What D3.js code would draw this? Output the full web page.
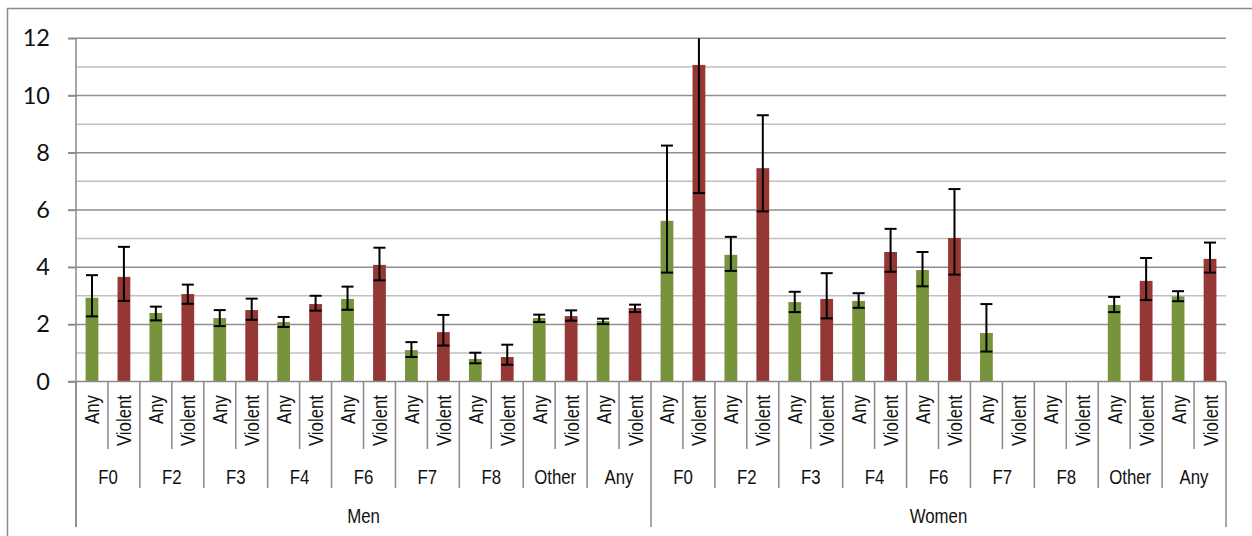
<!DOCTYPE html>
<html>
<head>
<meta charset="utf-8">
<script src="https://cdn.jsdelivr.net/npm/d3@7"></script>
<style>
  html, body { margin: 0; padding: 0; background: #fff; }
  svg { display: block; }
</style>
</head>
<body>
<svg id="chart" width="1252" height="536"></svg>
<script>
// Outcome categories (sub-level, group-level, top-level)
const sexes = ["Men", "Women"];
const groups = ["F0", "F2", "F3", "F4", "F6", "F7", "F8", "Other", "Any"];
const outcomes = ["Any", "Violent"];

// Estimates, one per sex x group x outcome, in category order (null = not shown)
const menValues   = [2.93, 3.66, 2.40, 3.06, 2.22, 2.50, 2.08, 2.71, 2.89, 4.08, 1.10, 1.73, 0.79, 0.86, 2.22, 2.29, 2.12, 2.57];
const womenValues = [5.62, 11.07, 4.43, 7.46, 2.78, 2.89, 2.82, 4.53, 3.90, 5.02, 1.70, null, null, null, 2.68, 3.52, 2.98, 4.29];

// Confidence interval bounds
const menLower   = [2.28, 2.82, 2.14, 2.72, 1.94, 2.16, 1.91, 2.48, 2.51, 3.54, 0.86, 1.26, 0.64, 0.59, 2.08, 2.13, 2.01, 2.43];
const menUpper   = [3.72, 4.71, 2.62, 3.39, 2.50, 2.90, 2.26, 3.00, 3.32, 4.68, 1.38, 2.33, 1.01, 1.29, 2.34, 2.49, 2.20, 2.69];
const womenLower = [3.81, 6.59, 3.87, 5.95, 2.43, 2.21, 2.58, 3.84, 3.33, 3.74, 1.05, null, null, null, 2.43, 2.85, 2.81, 3.81];
const womenUpper = [8.25, 12.0, 5.06, 9.31, 3.14, 3.79, 3.09, 5.34, 4.53, 6.73, 2.71, null, null, null, 2.96, 4.32, 3.16, 4.86];

const yTicks = [0, 2, 4, 6, 8, 10, 12];
const yMinor = [1, 3, 5, 7, 9, 11];

const colors = { Any: "#77933C", Violent: "#953735" };

// Build flat row list
const rows = [];
sexes.forEach((sex, si) => {
  const vals = si === 0 ? menValues : womenValues;
  const lo = si === 0 ? menLower : womenLower;
  const hi = si === 0 ? menUpper : womenUpper;
  groups.forEach((g, gi) => {
    outcomes.forEach((o, oi) => {
      const k = gi * 2 + oi;
      rows.push({ key: `${sex}|${g}|${o}`, sex, group: g, outcome: o,
                  value: vals[k], lo: lo[k], hi: hi[k] });
    });
  });
});

const svg = d3.select("#chart");
const plotLeft = 76, plotRight = 1226, plotTop = 38.3, plotBottom = 381.6;

// Outer chart frame
svg.append("rect")
  .attr("x", 7.5).attr("y", 8.5)
  .attr("width", 1300).attr("height", 600)
  .attr("fill", "none").attr("stroke", "#8a8a8a").attr("stroke-width", 1.5);

const x = d3.scaleBand().domain(rows.map(r => r.key)).range([plotLeft, plotRight]).paddingInner(0).paddingOuter(0);
const y = d3.scaleLinear().domain([0, 12]).range([plotBottom, plotTop]);
const step = x.step();
const barW = step / 2.5;

// Gridlines
svg.append("g").selectAll("line").data(yMinor).join("line")
  .attr("x1", plotLeft).attr("x2", plotRight)
  .attr("y1", d => y(d)).attr("y2", d => y(d))
  .attr("stroke", "#c0c0c0").attr("stroke-width", 1.5);
svg.append("g").selectAll("line").data(yTicks.filter(t => t > 0)).join("line")
  .attr("x1", plotLeft - 8).attr("x2", plotRight)
  .attr("y1", d => y(d)).attr("y2", d => y(d))
  .attr("stroke", "#8f8f8f").attr("stroke-width", 1.5);

// Y axis
const yAxis = d3.axisLeft(y).tickValues(yTicks).tickSize(8).tickPadding(18);
const ya = svg.append("g").attr("transform", `translate(${plotLeft},0)`).call(yAxis);
ya.select(".domain").remove();
ya.selectAll(".tick line").attr("stroke", "#8a8a8a").attr("stroke-width", 1.5);
ya.selectAll(".tick text")
  .attr("font-family", "Lato, 'Open Sans', sans-serif")
  .attr("font-size", 23.5).attr("fill", "#111");
svg.append("line").attr("x1", plotLeft).attr("x2", plotLeft).attr("y1", plotTop).attr("y2", 527)
  .attr("stroke", "#8a8a8a").attr("stroke-width", 1.5);

// Bars
const data = rows.filter(r => r.value != null);
svg.append("g").selectAll("rect").data(data).join("rect")
  .attr("x", d => x(d.key) + (step - barW) / 2)
  .attr("width", barW)
  .attr("y", d => y(d.value))
  .attr("height", d => y(0) - y(d.value))
  .attr("fill", d => colors[d.outcome]);

// Error bars
const eb = svg.append("g").attr("stroke", "#000").attr("stroke-width", 2);
const cap = 12;
data.forEach(d => {
  const cx = x(d.key) + step / 2;
  eb.append("line").attr("x1", cx).attr("x2", cx).attr("y1", y(d.lo)).attr("y2", y(d.hi));
  if (d.hi < 12) eb.append("line").attr("x1", cx - cap / 2).attr("x2", cx + cap / 2).attr("y1", y(d.hi)).attr("y2", y(d.hi));
  eb.append("line").attr("x1", cx - cap / 2).attr("x2", cx + cap / 2).attr("y1", y(d.lo)).attr("y2", y(d.lo));
});

// X axis baseline
svg.append("line").attr("x1", plotLeft - 8).attr("x2", plotRight).attr("y1", plotBottom).attr("y2", plotBottom)
  .attr("stroke", "#8a8a8a").attr("stroke-width", 1.5);

// Category separators for the three label levels
const axisG = svg.append("g").attr("stroke", "#8a8a8a").attr("stroke-width", 1.5);
rows.forEach((r, i) => {
  const xl = x(r.key);
  let yEnd;
  if (i === 0 || i === 18) yEnd = 527;
  else if (r.outcome === "Any") yEnd = 488;
  else yEnd = 449;
  axisG.append("line").attr("x1", xl).attr("x2", xl).attr("y1", plotBottom).attr("y2", yEnd);
});
axisG.append("line").attr("x1", plotRight).attr("x2", plotRight).attr("y1", plotBottom).attr("y2", 527);

// Condensed sans for category labels
const labelFont = "'Liberation Sans', Arial, sans-serif";
const labelSize = 21;
const squeeze = 0.8;

// Outcome labels (rotated)
svg.append("g").selectAll("text").data(rows).join("text")
  .attr("transform", d => `translate(${x(d.key) + step / 2 + 7.5},395) rotate(-90) scale(${squeeze},1)`)
  .attr("text-anchor", "end")
  .attr("font-family", labelFont).attr("font-size", labelSize).attr("fill", "#111")
  .text(d => d.outcome);

// Diagnosis group labels
const groupRows = rows.filter(r => r.outcome === "Any");
svg.append("g").selectAll("text").data(groupRows).join("text")
  .attr("transform", d => `translate(${x(d.key) + step},483.5) scale(${squeeze},1)`)
  .attr("text-anchor", "middle")
  .attr("font-family", labelFont).attr("font-size", labelSize).attr("fill", "#111")
  .text(d => d.group);

// Sex labels
svg.append("g").selectAll("text").data(sexes).join("text")
  .attr("transform", (d, i) => `translate(${plotLeft + (i + 0.5) * step * 18},522.5) scale(${squeeze},1)`)
  .attr("text-anchor", "middle")
  .attr("font-family", labelFont).attr("font-size", labelSize).attr("fill", "#111")
  .text(d => d);
</script>
</body>
</html>
